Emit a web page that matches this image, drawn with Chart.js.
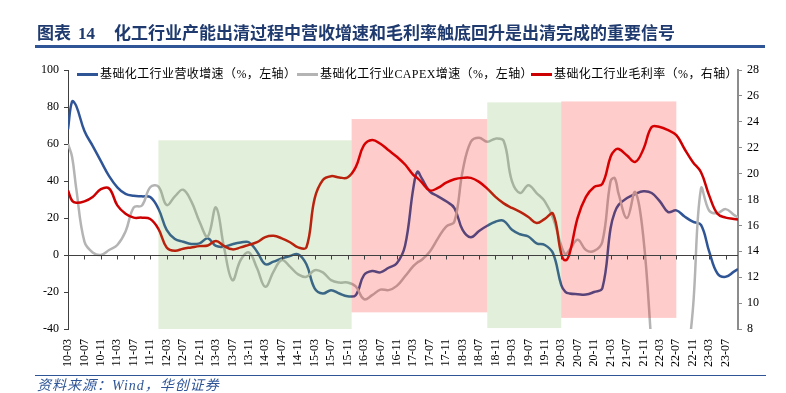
<!DOCTYPE html>
<html lang="zh">

<head>
    <meta charset="UTF-8">
    <title>化工行业营收增速与毛利率</title>
    <script src="https://cdn.jsdelivr.net/npm/chart.js"></script>
    <style>
        html,
        body {
            margin: 0;
            padding: 0;
            background-color: #ffffff;
        }

        #wrap {
            position: relative;
            width: 786px;
            height: 393px;
            overflow: hidden;
            font-family: "Liberation Serif", "Noto Sans CJK SC", serif;
        }

        #chart {
            position: absolute;
            left: 0;
            top: 0;
        }

        #title {
            position: absolute;
            left: 37px;
            top: 25px;
            font-size: 17px;
            line-height: 18px;
            font-weight: bold;
            color: #1f3a6e;
            white-space: nowrap;
        }

        #title .num {
            margin: 0 19px 0 7px;
        }

        #rule-top {
            position: absolute;
            left: 35px;
            top: 45px;
            width: 730px;
            height: 3px;
            background: #2f5597;
        }

        #rule-bottom {
            position: absolute;
            left: 35px;
            top: 375px;
            width: 731px;
            height: 1px;
            background: #2f5597;
        }

        #source {
            position: absolute;
            left: 37px;
            top: 378px;
            font-size: 14px;
            line-height: 15px;
            letter-spacing: 1px;
            font-style: italic;
            color: #2f5597;
        }

        .legend-item {
            position: absolute;
            top: 66px;
            font-size: 12px;
            line-height: 16px;
            letter-spacing: 0.4px;
            color: #000;
            white-space: nowrap;
        }

        .legend-item i {
            display: inline-block;
            width: 21px;
            height: 3px;
            vertical-align: middle;
            margin-right: 2px;
            position: relative;
            top: -1px;
        }
    </style>
</head>

<body>
    <div id="wrap">
        <canvas id="chart" width="786" height="393"></canvas>
        <div id="title">图表<span class="num">14</span>化工行业产能出清过程中营收增速和毛利率触底回升是出清完成的重要信号</div>
        <div id="rule-top"></div>
        <div class="legend-item" style="left:77px"><i style="background:#2f5597"></i>基础化工行业营收增速（%，左轴）</div>
        <div class="legend-item" style="left:297px"><i style="background:#b4b4b4"></i>基础化工行业CAPEX增速（%，左轴）</div>
        <div class="legend-item" style="left:531px"><i style="background:#cc0000"></i>基础化工行业毛利率（%，右轴）</div>
        <div id="rule-bottom"></div>
        <div id="source">资料来源：Wind，华创证券</div>
    </div>

    <script>
        // sample months (YY-MM)
        const sampleMonths = [
            '10-03', '10-04', '10-05', '10-07', '10-09', '10-11',
            '11-01', '11-03', '11-05', '11-07', '11-09', '11-11',
            '12-01', '12-03', '12-05', '12-07', '12-09', '12-11',
            '13-01', '13-03', '13-05', '13-07', '13-09', '13-11',
            '14-01', '14-03', '14-05', '14-07', '14-09', '14-11',
            '15-01', '15-03', '15-05', '15-07', '15-09', '15-11',
            '16-01', '16-03', '16-05', '16-07', '16-09', '16-11',
            '17-01', '17-03', '17-04', '17-05', '17-07', '17-09', '17-11',
            '18-01', '18-03', '18-05', '18-07', '18-09', '18-11',
            '19-01', '19-03', '19-05', '19-07', '19-09', '19-11',
            '20-01', '20-03', '20-04', '20-05', '20-07', '20-09', '20-11',
            '21-01', '21-03', '21-04', '21-05', '21-07', '21-09', '21-11',
            '22-01', '22-03', '22-05', '22-07', '22-09', '22-11',
            '23-01', '23-03', '23-05', '23-07', '23-09', '23-10'
        ];

        // 基础化工行业营收增速（%，左轴）
        const revenueGrowth = [
            68, 83, 80.6, 67, 59, 50.7,
            42.6, 36.6, 33, 32, 31.7, 31.3,
            25, 13.6, 8.7, 7.2, 6, 6.3,
            9, 4.9, 4.5, 5.8, 6.7, 6.9,
            1.8, -5, -3.6, -1.8, -0.5, 0.4,
            -5, -18, -20.8, -19, -20.8, -22.3,
            -21.7, -10.9, -8.7, -9.4, -6.9, -4.5,
            5, 36, 45, 41.7, 34.4, 31.7, 29,
            25.4, 13.6, 9.6, 13, 15.8, 18,
            18.5, 13.6, 11.2, 10, 6.3, 5.4,
            0.9, -16.3, -19.9, -20.8, -21.2, -21.4, -20,
            -18, 14.5, 23, 27.2, 30.8, 33, 34.4,
            33.5, 29, 23.2, 24.1, 20.8, 18,
            16.3, 1.8, -10, -11.8, -9, -7.6
        ];

        // 基础化工行业CAPEX增速（%，左轴）
        const capexGrowth = [
            60, 53, 36, 7.2, 1.4, 0,
            2.7, 5.4, 12.7, 25.7, 26.8, 36.6,
            37, 27, 31.7, 35.3, 29, 18,
            10, 25.7, 3.6, -13.6, -2.7, 1.4,
            -7.2, -17.2, -9, -2.7, -6.3, -10.5,
            -11.8, -8.2, -9.4, -13.6, -14.9, -14.9,
            -17, -23.9, -21.7, -18.7, -19, -16.7,
            -11.5, -6, -4, -2.7, 1.8, 9, 15.4,
            18, 45.3, 61.2, 63.4, 61.2, 62.9,
            61.6, 39.9, 33.5, 37.7, 33.5, 29,
            20, 5, 0.5, 2.7, 8.2, 2.7, 2.2,
            7.2, 39.9, 41.5, 32.6, 20, 34, 9,
            -50, -110, -130, -110, -70, -30,
            36, 23.9, 22.6, 24.8, 21.7, 20.3
        ];

        // 基础化工行业毛利率（%，右轴）
        const grossMargin = [
            18.7, 17.9, 17.75, 17.86, 18.2, 18.8,
            18.85, 17.55, 16.9, 16.6, 16.6, 16.5,
            15.74, 14.3, 14.04, 14.2, 14.3, 14.4,
            14.45, 14.8, 14.4, 14.15, 14.3, 14.5,
            14.7, 15.1, 15.2, 15.0, 14.7, 14.3,
            14.3, 18.07, 19.5, 19.8, 19.7, 19.7,
            20.5, 22.2, 22.6, 22.3, 21.8, 21.3,
            20.7, 19.9, 19.65, 19.35, 18.7, 18.9, 19.3,
            19.56, 19.67, 19.67, 19.36, 18.84, 18.2,
            17.7, 17.35, 17.04, 16.65, 16.18, 16.5,
            16.9, 13.8, 13.3, 13.8, 16.6, 18.2, 18.97,
            19.2, 21.3, 21.8, 21.9, 21.4, 20.9, 21.9,
            23.6, 23.6, 23.35, 22.97, 21.9, 20.9,
            20.1, 18.3, 16.9, 16.6, 16.5, 16.45
        ];

        const tickLabels = [
            '10-03', '10-07', '10-11', '11-03', '11-07', '11-11', '12-03', '12-07', '12-11',
            '13-03', '13-07', '13-11', '14-03', '14-07', '14-11', '15-03', '15-07', '15-11',
            '16-03', '16-07', '16-11', '17-03', '17-07', '17-11', '18-03', '18-07', '18-11',
            '19-03', '19-07', '19-11', '20-03', '20-07', '20-11', '21-03', '21-07', '21-11',
            '22-03', '22-07', '22-11', '23-03', '23-07'
        ];

        // shaded periods (left-axis values for top / bottom)
        const shadeStart = ['12-01', '15-12', '18-09', '20-03'];
        const shadeEnd = ['15-12', '18-09', '20-03', '22-07'];
        const shadeTop = [62, 73.5, 82.5, 83];
        const shadeBottom = [-40, -31, -39.5, -34];
        const shadePhase = ['出清', '景气', '出清', '景气'];

        function monthIndex(label) {
            const [yy, mm] = label.split('-').map(Number);
            return (yy - 10) * 12 + (mm - 3);
        }

        function toPoints(values) {
            return sampleMonths.map((m, i) => ({ x: monthIndex(m), y: values[i] }));
        }

        const serif = { family: 'Liberation Serif', size: 12 };

        const shadePlugin = {
            id: 'shade',
            afterDatasetsDraw(chart) {
                const { ctx, chartArea } = chart;
                const x = chart.scales.x;
                const y = chart.scales.y;
                ctx.save();
                shadeStart.forEach((s, i) => {
                    const x1 = x.getPixelForValue(monthIndex(s));
                    const x2 = x.getPixelForValue(monthIndex(shadeEnd[i]));
                    const y1 = y.getPixelForValue(shadeTop[i]);
                    const y2 = y.getPixelForValue(shadeBottom[i]);
                    ctx.fillStyle = shadePhase[i] === '出清' ? 'rgba(112,173,71,0.2)' : 'rgba(255,0,0,0.2)';
                    ctx.fillRect(x1, y1, x2 - x1, y2 - y1);
                });

                // zero line with tick marks, like the category axis crossing at 0
                const y0 = Math.round(y.getPixelForValue(0)) + 0.5;
                ctx.strokeStyle = '#404040';
                ctx.lineWidth = 1;
                ctx.beginPath();
                ctx.moveTo(chartArea.left, y0);
                ctx.lineTo(chartArea.right, y0);
                x.ticks.forEach(t => {
                    const px = Math.round(x.getPixelForValue(t.value)) + 0.5;
                    ctx.moveTo(px, y0);
                    ctx.lineTo(px, y0 + 4);
                });
                ctx.stroke();
                ctx.restore();
            }
        };

        new Chart(document.getElementById('chart'), {
            type: 'line',
            data: {
                datasets: [
                    {
                        label: '基础化工行业营收增速（%，左轴）',
                        data: toPoints(revenueGrowth),
                        borderColor: '#2f5597',
                        borderWidth: 2.5,
                        yAxisID: 'y',
                        order: 3
                    },
                    {
                        label: '基础化工行业CAPEX增速（%，左轴）',
                        data: toPoints(capexGrowth),
                        borderColor: '#b4b4b4',
                        borderWidth: 2.5,
                        yAxisID: 'y',
                        order: 2
                    },
                    {
                        label: '基础化工行业毛利率（%，右轴）',
                        data: toPoints(grossMargin),
                        borderColor: '#cc0000',
                        borderWidth: 2.5,
                        yAxisID: 'y1',
                        order: 1
                    }
                ]
            },
            options: {
                responsive: false,
                animation: false,
                devicePixelRatio: 1,
                layout: { padding: { top: 70, left: 0, right: 0, bottom: 0 } },
                elements: {
                    point: { radius: 0, hoverRadius: 0 },
                    line: { tension: 0.4, fill: false }
                },
                plugins: {
                    legend: { display: false },
                    tooltip: { enabled: false },
                    title: { display: false }
                },
                scales: {
                    x: {
                        type: 'linear',
                        min: 0,
                        max: 163,
                        position: 'bottom',
                        grid: { display: false, drawTicks: false },
                        border: { display: false },
                        ticks: {
                            autoSkip: false,
                            minRotation: 90,
                            maxRotation: 90,
                            padding: 10,
                            color: '#000',
                            font: serif,
                            callback: v => {
                                const i = tickLabels.findIndex(l => monthIndex(l) === v);
                                return i >= 0 ? tickLabels[i] : '';
                            }
                        },
                        afterBuildTicks: s => {
                            s.ticks = tickLabels.map(l => ({ value: monthIndex(l) }));
                        },
                        afterFit: s => { s.height = 64; }
                    },
                    y: {
                        position: 'left',
                        min: -40,
                        max: 100,
                        grid: { display: true, drawOnChartArea: false, drawTicks: true, tickLength: 4, tickColor: '#404040' },
                        border: { display: true, color: '#404040', width: 1 },
                        ticks: { stepSize: 20, padding: 5, color: '#000', font: serif },
                        afterFit: s => { s.width = 68; }
                    },
                    y1: {
                        position: 'right',
                        min: 8,
                        max: 28,
                        grid: { display: true, drawOnChartArea: false, drawTicks: true, tickLength: 4, tickColor: '#8c8c8c' },
                        border: { display: true, color: '#8c8c8c', width: 2 },
                        ticks: { stepSize: 2, padding: 5, color: '#000', font: serif },
                        afterFit: s => { s.width = 48; }
                    }
                }
            },
            plugins: [shadePlugin]
        });
    </script>
</body>

</html>
